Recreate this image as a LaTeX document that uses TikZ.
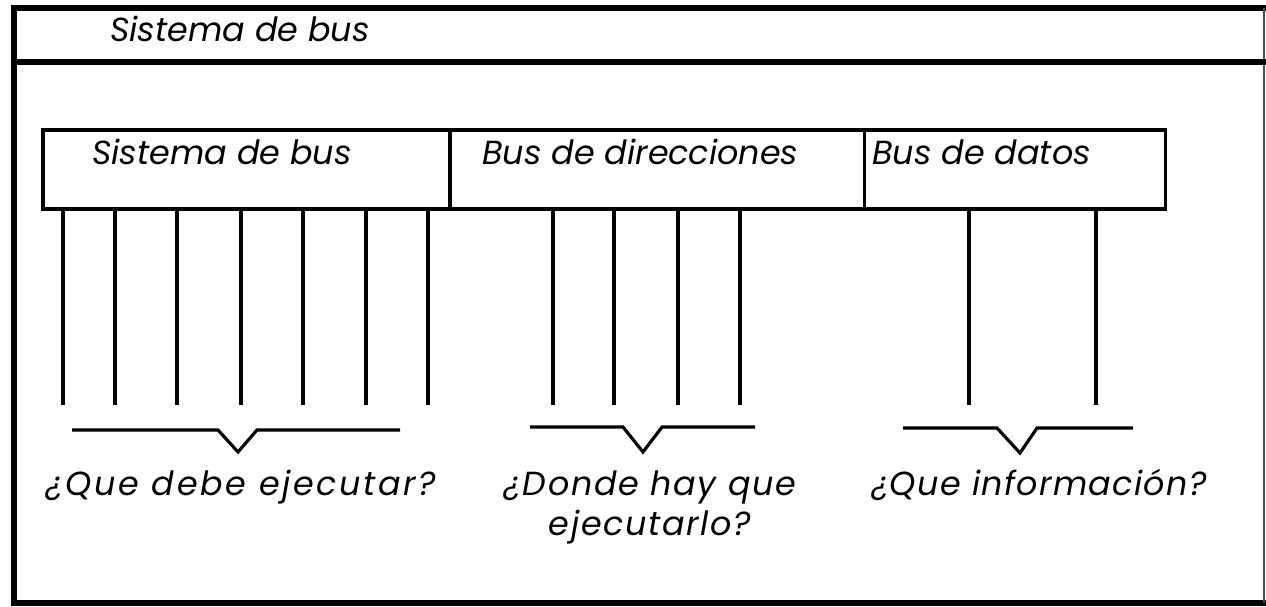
\documentclass[tikz,border=0pt]{standalone}
\usepackage{fontspec}
\setmainfont{Poppins}
\usetikzlibrary{positioning,calc}

\tikzset{
  buslabel/.style={font=\itshape\fontsize{19}{23}\selectfont, inner sep=0pt},
  pregunta/.style={font=\itshape\fontsize{19}{22.7}\selectfont\addfontfeature{LetterSpace=#1},
    inner sep=0pt, anchor=base},
  pregunta/.default=5,
  busbox/.style={draw, line width=1.8pt, inner sep=0pt, outer sep=0pt,
    anchor=north west, minimum height=1.58cm},
  busline/.style={line width=2pt},
  brace/.style={line width=1.8pt, line join=miter},
}

\begin{document}
\begin{tikzpicture}[x=0.02cm, y=-0.02cm]
\useasboundingbox (0,0) rectangle (1266,607);

% marco
\draw[line width=3.4pt] (1266,8) -- (14,8) -- (14,603) -- (1266,603);
\draw[line width=0.6pt, black!70] (1264,8) -- (1264,603);
\draw[line width=3pt] (14,62) -- (1266,62);
\node[buslabel, anchor=base west] (titulo) at (110,42) {Sistema de bus};

% cajas del bus
\node[busbox, minimum width=8.14cm] (control) at (43,130) {};
\node[busbox, minimum width=8.30cm] (direcciones) at (control.north east) {};
\node[busbox, minimum width=6.02cm] (datos) at (direcciones.north east) {};

\node[buslabel, anchor=base west] (tcontrol) at (92,165) {Sistema de bus};
\node[buslabel, anchor=base west] (tdirecciones) at (482,165) {Bus de direcciones};
\node[buslabel, anchor=base west] (tdatos) at (872,165) {Bus de datos};

% lineas
\foreach \x in {63,115,177,241,303,366,428}
  \draw[busline] (\x,0 |- control.south) -- (\x,405);
\foreach \x in {553,614,678,740}
  \draw[busline] (\x,0 |- direcciones.south) -- (\x,405);
\foreach \x in {969,1096}
  \draw[busline] (\x,0 |- datos.south) -- (\x,405);

% llaves
\coordinate (v1) at (238,452);
\coordinate (v2) at (643,452);
\coordinate (v3) at (1020,453);
\draw[brace] (72,430) -- (218,430) -- (v1) -- (257,430) -- (400,430);
\draw[brace] (530,427) -- (623,427) -- (v2) -- (662,427) -- (755,427);
\draw[brace] (903,428) -- (997,428) -- (v3) -- (1037,428) -- (1133,428);

% preguntas
\node[pregunta=8] (q1) at (241,495) {¿Que debe ejecutar?};
\node[pregunta, align=center] (q2) at (650,535) {¿Donde hay que\\ejecutarlo?};
\node[pregunta=4] (q3) at (1039,495) {¿Que información?};
\end{tikzpicture}
\end{document}
